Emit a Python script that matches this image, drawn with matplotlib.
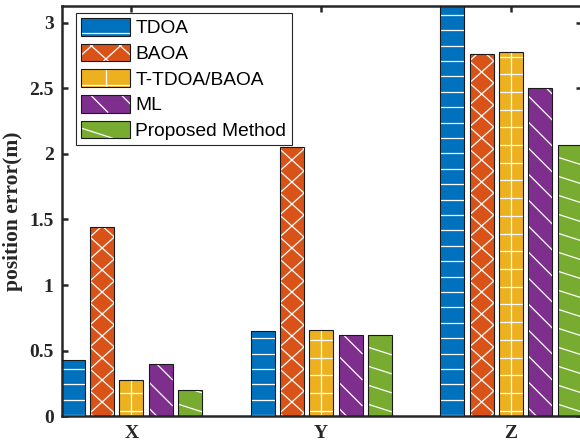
import numpy as np
import matplotlib
matplotlib.use('Agg')
import matplotlib.pyplot as plt
from matplotlib.patches import Rectangle
from matplotlib.collections import LineCollection
from matplotlib.legend_handler import HandlerBase

# values
categories = ['X', 'Y', 'Z']
methods = ['TDOA', 'BAOA', 'T-TDOA/BAOA', 'ML', 'Proposed Method']
tdoa = [0.43, 0.65, 3.25]
baoa = [1.44, 2.05, 2.76]
t_tdoa_baoa = [0.28, 0.66, 2.78]
ml = [0.40, 0.62, 2.50]
proposed = [0.20, 0.62, 2.07]
y_ticks = [0, 0.5, 1, 1.5, 2, 2.5, 3]
y_tick_labels = ['0', '0.5', '1', '1.5', '2', '2.5', '3']

series = [tdoa, baoa, t_tdoa_baoa, ml, proposed]
colors = ['#0072BD', '#D95319', '#EDB120', '#7E2F8E', '#77AC30']
# hatch line families in pixels: (slope, vertical gap), 'v' = one vertical line in the middle
hatches = [
    [(0, 15.4)],
    [(0.9, 22), (-0.9, 22)],
    [(0, 17.7), ('v', 0)],
    [(-1.0, 26)],
    [(-0.32, 19)],
]
edge_col = '#1a1a1a'


def hatch_segments(x0, y0, w, h, fams, s=1.0):
    # straight hatch lines cut to the rectangle
    segs = []
    xc = x0 + w / 2
    for m, gap in fams:
        if m == 'v':
            segs.append([(xc, y0), (xc, y0 + h)])
            continue
        gap = gap * s
        reach = abs(m) * w / 2
        k0 = int(np.floor((y0 - reach) / gap)) - 1
        k1 = int(np.ceil((y0 + h + reach) / gap)) + 1
        for k in range(k0, k1 + 1):
            c = k * gap
            if m == 0:
                if y0 < c < y0 + h:
                    segs.append([(x0, c), (x0 + w, c)])
                continue
            xa = xc + (y0 - c) / m
            xb = xc + (y0 + h - c) / m
            lo = max(x0, min(xa, xb))
            hi = min(x0 + w, max(xa, xb))
            if hi > lo:
                segs.append([(lo, c + m * (lo - xc)), (hi, c + m * (hi - xc))])
    return segs


class HatchHandler(HandlerBase):
    def __init__(self, color, fams):
        super().__init__()
        self.color = color
        self.fams = fams

    def create_artists(self, legend, orig_handle, xdescent, ydescent,
                       width, height, fontsize, trans):
        x0, y0 = -xdescent, -ydescent
        face = Rectangle((x0, y0), width, height, facecolor=self.color,
                         edgecolor='none', transform=trans)
        lines = LineCollection(hatch_segments(x0, y0, width, height, self.fams, 0.85),
                               colors='white', linewidths=0.9, transform=trans)
        edge = Rectangle((x0, y0), width, height, fill=False,
                         edgecolor=edge_col, linewidth=0.8, transform=trans)
        return [face, lines, edge]


fig = plt.figure(figsize=(5.8, 4.46), dpi=100)
ax = fig.add_axes([62 / 580, 29.7 / 446, 520.3 / 580, 410.3 / 446])
ax.set_xlim(0.634, 3.376)
ax.set_ylim(0, 3.127)

x = np.arange(1, len(categories) + 1)
width = 0.1265
step = 0.1545
inv = ax.transData.inverted()

for i, vals in enumerate(series):
    pos = x + (i - 2) * step
    bars = ax.bar(pos, vals, width, color=colors[i], linewidth=0, zorder=2)
    ax.bar(pos, vals, width, fill=False, edgecolor=edge_col, linewidth=0.8, zorder=3)
    segs = []
    for b in bars:
        (px0, py0), (px1, py1) = ax.transData.transform(
            [(b.get_x(), 0), (b.get_x() + b.get_width(), b.get_height())])
        for seg in hatch_segments(px0, py0, px1 - px0, py1 - py0, hatches[i]):
            segs.append(inv.transform(seg))
    ax.add_collection(LineCollection(segs, colors='white', linewidths=0.9, zorder=2.5))

# axes styling
for sp in ax.spines.values():
    sp.set_linewidth(1.8)
    sp.set_color('#262626')
ax.set_xticks(x)
ax.set_xticklabels(categories)
ax.set_yticks(y_ticks)
ax.set_yticklabels(y_tick_labels)
ax.tick_params(direction='in', length=4, width=1.8, color='#262626',
               top=True, right=True, labelsize=14, labelcolor='#262626')
ax.tick_params(axis='y', pad=6)
ax.tick_params(axis='x', pad=6)
for lab in ax.get_xticklabels() + ax.get_yticklabels():
    lab.set_family('Liberation Serif')
    lab.set_fontweight('bold')
ax.set_ylabel('position error(m)', family='Liberation Serif', fontweight='bold',
              fontsize=15.5, color='#262626')
ax.yaxis.set_label_coords(-0.075, 0.5)

# legend with drawn hatches
proxies = [Rectangle((0, 0), 1, 1) for _ in methods]
hmap = {p: HatchHandler(colors[i], hatches[i]) for i, p in enumerate(proxies)}
leg = ax.legend(proxies, methods, handler_map=hmap, loc='upper left',
                bbox_to_anchor=(76 / 580, 1 - 12.5 / 446), bbox_transform=fig.transFigure,
                borderaxespad=0, prop={'family': 'Liberation Sans', 'size': 13.8},
                handlelength=2.56, handleheight=1.04, handletextpad=0.26,
                labelspacing=0.33, borderpad=0.28, fancybox=False, framealpha=1)
leg.get_frame().set_edgecolor('#262626')
leg.get_frame().set_linewidth(0.8)
leg.set_zorder(5)

fig.savefig('out.png', dpi=100)
